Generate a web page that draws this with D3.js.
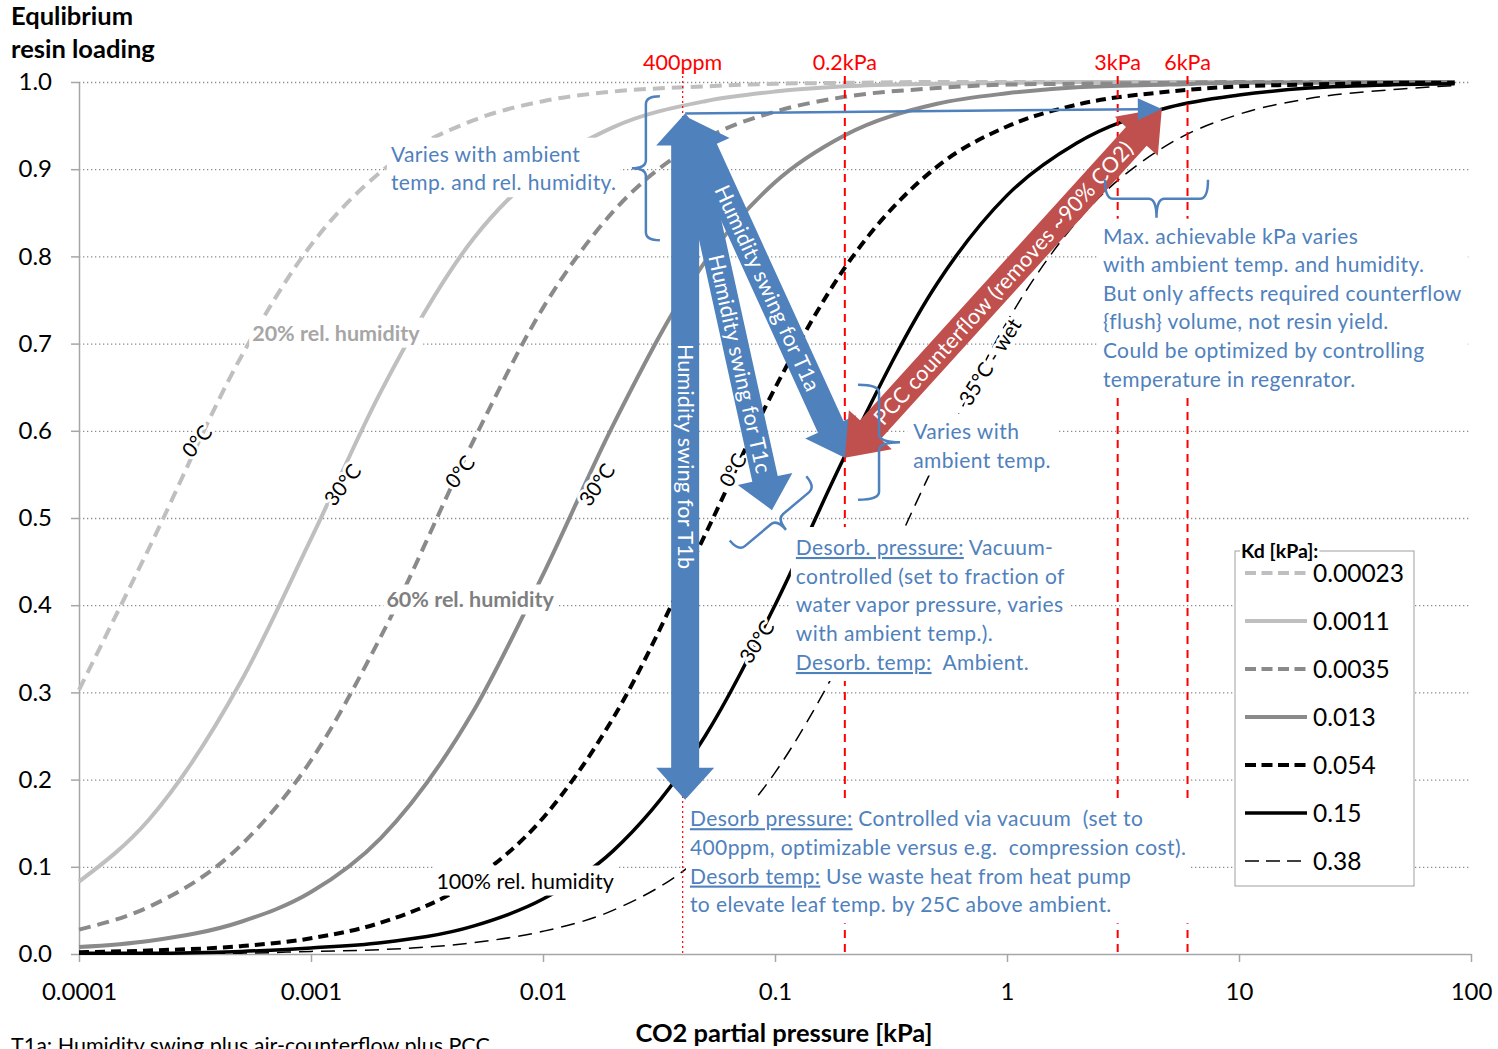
<!DOCTYPE html>
<html>
<head>
<meta charset="utf-8">
<script src="https://cdnjs.cloudflare.com/ajax/libs/d3/7.8.5/d3.min.js"></script>
<style>
body{margin:0;background:#fff;}
svg{display:block;font-family:Lato,"Open Sans",sans-serif;}
</style>
</head>
<body>
<svg id="chart" width="1498" height="1049"></svg>
<script>
const pressure = [0.0001,0.0002,0.0005,0.001,0.002,0.005,0.01,0.02,0.05,0.1,0.2,0.5,1,2,5,10,20,50,85];
const kd00023 = [0.303,0.465,0.685,0.813,0.897,0.956,0.978,0.989,0.995,0.998,0.999,1,1,1,1,1,1,1,1];
const kd0011  = [0.083,0.154,0.313,0.476,0.645,0.820,0.901,0.948,0.978,0.989,0.995,0.998,0.999,1,1,1,1,1,1];
const kd0035  = [0.028,0.054,0.125,0.222,0.364,0.588,0.741,0.851,0.935,0.966,0.983,0.993,0.997,0.998,0.999,1,1,1,1];
const kd013   = [0.008,0.015,0.037,0.071,0.133,0.278,0.435,0.606,0.794,0.885,0.939,0.975,0.987,0.994,0.997,0.999,0.999,1,1];
const kd054   = [0.002,0.004,0.009,0.018,0.036,0.085,0.156,0.270,0.481,0.649,0.787,0.903,0.949,0.974,0.989,0.995,0.997,0.999,0.999];
const kd015   = [0.001,0.001,0.003,0.007,0.013,0.032,0.063,0.118,0.250,0.400,0.571,0.769,0.870,0.930,0.971,0.985,0.993,0.997,0.998];
const kd038   = [0.000,0.001,0.001,0.003,0.005,0.013,0.026,0.050,0.116,0.208,0.345,0.568,0.725,0.840,0.929,0.963,0.981,0.992,0.996];
const kdLabels = ["0.00023","0.0011","0.0035","0.013","0.054","0.15","0.38"];

const xTicks = [0.0001,0.001,0.01,0.1,1,10,100];
const xTickLabels = ["0.0001","0.001","0.01","0.1","1","10","100"];
const yTicks = [0,0.1,0.2,0.3,0.4,0.5,0.6,0.7,0.8,0.9,1.0];
const markerValues = [0.04,0.2,3,6];
const markerLabels = ["400ppm","0.2kPa","3kPa","6kPa"];

const svg = d3.select("#chart");
const margin = {top: 82, right: 27, bottom: 95, left: 79};
const W = +svg.attr("width"), H = +svg.attr("height");
const x = d3.scaleLog().domain([0.0001,100]).range([margin.left, W - margin.right]);
const y = d3.scaleLinear().domain([0,1]).range([H - margin.bottom, margin.top]);

const blue = "#4f81bd", red = "#c0504d";
const noteSize = 21, noteSpacing = 0.4;
const styles = [
  {color:"#bfbfbf", width:4, dash:"12,7"},
  {color:"#bfbfbf", width:4, dash:null},
  {color:"#8a8a8a", width:4, dash:"12,7"},
  {color:"#8a8a8a", width:4, dash:null},
  {color:"#000", width:4, dash:"10,6"},
  {color:"#000", width:3.5, dash:null},
  {color:"#000", width:1.5, dash:"14,8"}
];
const series = [kd00023,kd0011,kd0035,kd013,kd054,kd015,kd038].map((v,i)=>({label:kdLabels[i], values:v, style:styles[i]}));

// gridlines
svg.append("g").attr("class","grid")
  .attr("transform",`translate(${margin.left},0)`)
  .call(d3.axisLeft(y).tickValues(yTicks.filter(d=>d>0)).tickSize(-(W-margin.left-margin.right)).tickFormat(""))
  .call(g=>g.select(".domain").remove())
  .selectAll("line").attr("stroke","#8c8c8c").attr("stroke-width",1.3).attr("stroke-dasharray","1.3,2.7");

// axes
const yAxis = svg.append("g")
  .attr("transform",`translate(${margin.left},0)`)
  .call(d3.axisLeft(y).tickValues(yTicks).tickFormat(d3.format(".1f")).tickSize(8).tickSizeOuter(0).tickPadding(19));
const xAxis = svg.append("g")
  .attr("transform",`translate(0,${H-margin.bottom})`)
  .call(d3.axisBottom(x).tickValues(xTicks).tickFormat((d,i)=>xTickLabels[i]).tickSize(8).tickSizeOuter(0).tickPadding(21));
[yAxis,xAxis].forEach(a=>{
  a.select(".domain").attr("stroke","#a6a6a6").attr("stroke-width",1.5);
  a.selectAll(".tick line").attr("stroke","#a6a6a6").attr("stroke-width",1.5);
  a.selectAll("text").attr("font-family","Lato").attr("font-size",24).attr("fill","#000");
});

svg.append("text").attr("x",11).attr("y",25).attr("font-weight","bold").attr("font-size",25.5).text("Equlibrium");
svg.append("text").attr("x",11).attr("y",58).attr("font-weight","bold").attr("font-size",25.5).text("resin loading");
svg.append("text").attr("x",784).attr("y",1042).attr("text-anchor","middle").attr("font-weight","bold").attr("font-size",25.5).text("CO2 partial pressure [kPa]");
svg.append("text").attr("x",11).attr("y",1053).attr("font-size",21.5).text("T1a: Humidity swing plus air-counterflow plus PCC");

// curves
const lineGen = d3.line().x(d=>x(d[0])).y(d=>y(d[1])).curve(d3.curveMonotoneX);
series.forEach(s=>{
  svg.append("path")
    .attr("d", lineGen(pressure.map((p,i)=>[p, s.values[i]])))
    .attr("fill","none")
    .attr("stroke", s.style.color)
    .attr("stroke-width", s.style.width)
    .attr("stroke-dasharray", s.style.dash);
});

// red marker lines
markerValues.forEach((v,i)=>{
  svg.append("line")
    .attr("x1",x(v)).attr("x2",x(v)).attr("y1",y(1)-6).attr("y2",y(0))
    .attr("stroke","#ff0000")
    .attr("stroke-width", i==0 ? 1.2 : 2)
    .attr("stroke-dasharray", i==0 ? "2,3" : "8,6");
  svg.append("text").attr("x",x(v)).attr("y",62).attr("dy","0.35em")
    .attr("text-anchor","middle").attr("fill","#ff0000").attr("font-size",21.5).text(markerLabels[i]);
});

// curve temperature labels
const curveLabels = [
  {t:"0°C", p:3.23e-4, l:0.588, r:-50},
  {t:"30°C", p:1.37e-3, l:0.538, r:-52},
  {t:"0°C", p:4.39e-3, l:0.553, r:-52},
  {t:"30°C", p:0.0171, l:0.538, r:-55},
  {t:"0°C", p:0.0659, l:0.555, r:-62},
  {t:"30°C", p:0.0836, l:0.358, r:-57},
  {t:"35°C - wet", p:0.845, l:0.679, r:-58}
];
curveLabels.forEach(c=>{
  svg.append("text")
    .attr("transform",`translate(${x(c.p)},${y(c.l)}) rotate(${c.r})`)
    .attr("text-anchor","middle").attr("dy","0.35em")
    .attr("font-size",20.5)
    .attr("stroke","#fff").attr("stroke-width",6).attr("paint-order","stroke").attr("stroke-linejoin","round")
    .text(c.t);
});

function boxedText(g, pad){
  const bb = g.node().getBBox();
  g.insert("rect",":first-child")
    .attr("x",bb.x-pad[0]).attr("y",bb.y-pad[1])
    .attr("width",bb.width+2*pad[0]).attr("height",bb.height+2*pad[1])
    .attr("fill","#fff");
}

const humidLabels = [
  {t:"20% rel. humidity", p:1.28e-3, l:0.712, bold:true, fill:"#a6a6a6"},
  {t:"60% rel. humidity", p:4.85e-3, l:0.406, bold:true, fill:"#7f7f7f"},
  {t:"100% rel. humidity", p:8.37e-3, l:0.0837, bold:false, fill:"#000"}
];
humidLabels.forEach(h=>{
  const g = svg.append("g");
  g.append("text").attr("x",x(h.p)).attr("y",y(h.l)).attr("dy","0.35em")
    .attr("text-anchor","middle").attr("font-size",21.5)
    .attr("font-weight",h.bold?"bold":"normal").attr("fill",h.fill).text(h.t);
  boxedText(g,[3,2]);
});

// arrows
function pt(d){ return [x(d[0]), y(d[1])]; }
function arrowPoints(a,b,w,hw,hl,double){
  const dx=b[0]-a[0], dy=b[1]-a[1], len=Math.hypot(dx,dy);
  const u=[dx/len,dy/len], n=[-u[1],u[0]];
  const P=(p,s,k)=>[p[0]+u[0]*s+n[0]*k, p[1]+u[1]*s+n[1]*k];
  if(double){
    return [a, P(a,hl,hw/2), P(a,hl,w/2), P(b,-hl,w/2), P(b,-hl,hw/2), b,
            P(b,-hl,-hw/2), P(b,-hl,-w/2), P(a,hl,-w/2), P(a,hl,-hw/2)];
  }
  return [P(a,0,w/2), P(b,-hl,w/2), P(b,-hl,hw/2), b, P(b,-hl,-hw/2), P(b,-hl,-w/2), P(a,0,-w/2)];
}
const arrows = [
  {a:[0.0461,0.899], b:[0.097,0.509], w:26, hw:56, hl:32, dbl:false, fill:blue, text:"Humidity swing for T1c", t:0.57},
  {a:[0.043,0.958], b:[0.2,0.569], w:28, hw:56, hl:34, dbl:true, fill:blue, text:"Humidity swing for T1a", t:0.5},
  {a:[0.041,0.964], b:[0.041,0.177], w:28, hw:58, hl:32, dbl:true, fill:blue, text:"Humidity swing for T1b", t:0.5},
  {a:[0.2,0.569], b:[4.65,0.970], w:28, hw:58, hl:38, dbl:true, fill:red, text:"PCC counterflow (removes ~90% CO2)", t:0.5}
];
arrows.forEach(ar=>{
  const a=pt(ar.a), b=pt(ar.b);
  svg.append("polygon").attr("points",arrowPoints(a,b,ar.w,ar.hw,ar.hl,ar.dbl).map(p=>p.join(",")).join(" "))
    .attr("fill",ar.fill);
});
arrows.forEach(ar=>{
  const a=pt(ar.a), b=pt(ar.b);
  const cx=a[0]+(b[0]-a[0])*ar.t, cy=a[1]+(b[1]-a[1])*ar.t;
  const ang=Math.atan2(b[1]-a[1],b[0]-a[0])*180/Math.PI;
  svg.append("text").attr("transform",`translate(${cx},${cy}) rotate(${ang})`)
    .attr("text-anchor","middle").attr("dy","0.35em").attr("fill","#fff")
    .attr("font-size",21.5).attr("letter-spacing",0.2).text(ar.text);
});

// thin horizontal arrow at top
{
  const a=pt([0.041,0.964]), b=pt([4.65,0.969]);
  const head=arrowPoints([b[0]-24,b[1]+0.2],b,0,22,24,false);
  svg.append("line").attr("x1",a[0]).attr("y1",a[1]).attr("x2",b[0]-22).attr("y2",b[1]+0.2)
    .attr("stroke",blue).attr("stroke-width",2.5);
  svg.append("polygon").attr("points",head.map(p=>p.join(",")).join(" ")).attr("fill",blue);
}

// braces
function brace(c, L, h, rot){
  const p = pt(c), r = 8;
  const d = `M${-L/2},0 Q${-L/2},${h} ${-L/2+r},${h} L${-r},${h} Q0,${h} 0,${2*h} Q0,${h} ${r},${h} L${L/2-r},${h} Q${L/2},${h} ${L/2},0`;
  svg.append("path").attr("d",d).attr("transform",`translate(${p[0]},${p[1]}) rotate(${rot})`)
    .attr("fill","none").attr("stroke",blue).attr("stroke-width",2.5);
}
brace([0.0319,0.901],144,14,90);
brace([0.228,0.587],115,21,-90);
brace([4.41,0.888],103,19,0);
brace([0.0933,0.511],100,14,-40);

// annotation text blocks
function textBlock(p, l, lines, lh, pad){
  const g = svg.append("g");
  lines.forEach((ln,i)=>{
    const t = g.append("text").attr("x",x(p)).attr("y",y(l)+i*lh).attr("dy","0.35em")
      .attr("font-size",noteSize).attr("letter-spacing",noteSpacing).attr("fill",blue).style("white-space","pre");
    ln.forEach(seg=>{
      t.append("tspan").text(seg[0]).style("text-decoration", seg[1] ? "underline" : null);
    });
  });
  boxedText(g,pad);
}
textBlock(2.21e-3, 0.917, [[["Varies with ambient"]],[["temp. and rel. humidity."]]], 28.5, [4,3]);
textBlock(2.59, 0.823, [
  [["Max. achievable kPa varies"]],
  [["with ambient temp. and humidity."]],
  [["But only affects required counterflow"]],
  [["{flush} volume, not resin yield."]],
  [["Could be optimized by controlling"]],
  [["temperature in regenrator."]]
], 28.6, [6,4]);
textBlock(0.394, 0.599, [[["Varies with"]],[["ambient temp."]]], 28.5, [6,4]);
textBlock(0.123, 0.466, [
  [["Desorb. pressure:",true],[" Vacuum-"]],
  [["controlled (set to fraction of"]],
  [["water vapor pressure, varies"]],
  [["with ambient temp.)."]],
  [["Desorb. temp:",true],["  Ambient."]]
], 28.75, [5,7]);
textBlock(0.043, 0.155, [
  [["Desorb pressure:",true],[" Controlled via vacuum  (set to"]],
  [["400ppm, optimizable versus e.g.  compression cost)."]],
  [["Desorb temp:",true],[" Use waste heat from heat pump"]],
  [["to elevate leaf temp. by 25C above ambient."]]
], 28.7, [4,7]);

// legend
const legend = svg.append("g");
legend.append("rect").attr("x",1235).attr("y",551).attr("width",179).attr("height",335)
  .attr("fill","#fff").attr("stroke","#a0a0a0").attr("stroke-width",1);
const lt = legend.append("g");
lt.append("text").attr("x",1241).attr("y",551).attr("dy","0.35em").attr("font-weight","bold").attr("font-size",19.5).text("Kd [kPa]:");
boxedText(lt,[1,0]);
series.forEach((s,i)=>{
  const ly = 573 + i*48;
  legend.append("line").attr("x1",1245).attr("x2",1307).attr("y1",ly).attr("y2",ly)
    .attr("stroke",s.style.color).attr("stroke-width",s.style.width)
    .attr("stroke-dasharray", s.style.dash ? (i==6 ? "14,7" : "11,5.5") : null);
  legend.append("text").attr("x",1313).attr("y",ly).attr("dy","0.35em").attr("font-size",24.5).text(s.label);
});
</script>
</body>
</html>
